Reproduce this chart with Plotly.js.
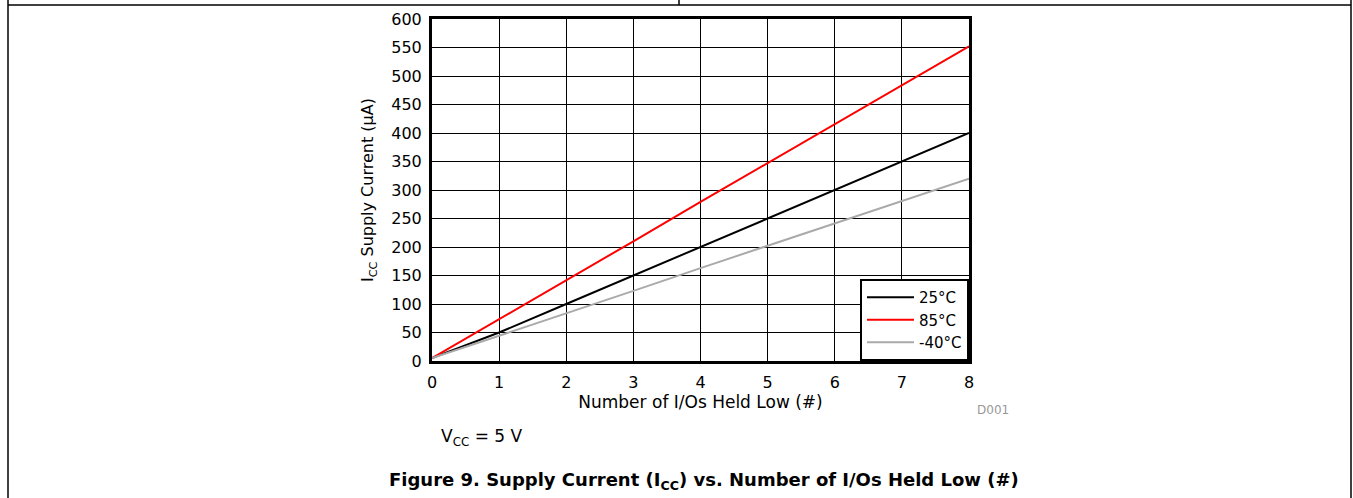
<!DOCTYPE html>
<html>
<head>
<meta charset="utf-8">
<script src="https://cdn.plot.ly/plotly-3.0.1.min.js"></script>
<style>
html,body{margin:0;padding:0;background:#fff;}
#chart{width:1353px;height:498px;}
</style>
</head>
<body>
<div id="chart"></div>
<script>
const ios = [0, 1, 2, 3, 4, 5, 6, 7, 8];
const icc25 = [5, 50, 100, 150, 200, 250, 300, 350, 400];
const icc85 = [5, 73, 142, 210, 279, 347, 415, 484, 552];
const iccM40 = [5, 44, 84, 123, 163, 202, 241, 281, 320];
const seriesNames = ['25°C', '85°C', '-40°C'];
const xTicks = [0, 1, 2, 3, 4, 5, 6, 7, 8];
const yTicks = [0, 50, 100, 150, 200, 250, 300, 350, 400, 450, 500, 550, 600];

const L = 432, R = 969, T = 19, B = 361, W = 1353, H = 498;
const px = v => (v - L) / (R - L);
const py = v => (B - v) / (B - T);

const font = 'DejaVu Sans, Arial, sans-serif';

const traces = [
  {x: ios, y: icc25, name: seriesNames[0], mode: 'lines', line: {color: '#000000', width: 2}},
  {x: ios, y: icc85, name: seriesNames[1], mode: 'lines', line: {color: '#ff0000', width: 2}},
  {x: ios, y: iccM40, name: seriesNames[2], mode: 'lines', line: {color: '#aaaaaa', width: 2}}
];

const frame = {type: 'line', xref: 'paper', yref: 'paper', line: {color: '#000', width: 1.5}};
const shapes = [
  Object.assign({}, frame, {x0: px(8), x1: px(1351), y0: py(5), y1: py(5)}),
  Object.assign({}, frame, {x0: px(8), x1: px(8), y0: py(0), y1: py(498)}),
  Object.assign({}, frame, {x0: px(1351), x1: px(1351), y0: py(0), y1: py(498)}),
  Object.assign({}, frame, {x0: px(679), x1: px(679), y0: py(0), y1: py(5)})
];

const annotations = [
  {text: 'D001', xref: 'paper', yref: 'paper', x: px(993), y: py(410), showarrow: false,
   font: {family: font, size: 12, color: '#999999'}, xanchor: 'center', yanchor: 'middle'},
  {text: 'V<sub>CC</sub> = 5 V', xref: 'paper', yref: 'paper', x: px(439), y: py(437), showarrow: false,
   font: {family: font, size: 17, color: '#000'}, xanchor: 'left', yanchor: 'middle'},
  {text: '<b>Figure 9. Supply Current (I<sub>CC</sub>) vs. Number of I/Os Held Low (#)</b>', xref: 'paper', yref: 'paper',
   x: px(704), y: py(481), showarrow: false,
   font: {family: font, size: 18, color: '#000'}, xanchor: 'center', yanchor: 'middle'}
];

const layout = {
  width: W, height: H,
  margin: {l: L, r: W - R, t: T, b: H - B, pad: 0},
  paper_bgcolor: '#fff', plot_bgcolor: '#fff',
  font: {family: font, size: 16, color: '#000'},
  showlegend: true,
  legend: {x: 1, y: 0, xanchor: 'right', yanchor: 'bottom', bordercolor: '#000', borderwidth: 2,
           bgcolor: '#fff', font: {family: font, size: 15, color: '#000'}, tracegroupgap: 0,
           itemwidth: 47},
  xaxis: {
    range: [0, 8], tickvals: xTicks, ticktext: xTicks.map(String), showgrid: true, gridcolor: '#000', gridwidth: 1,
    zeroline: false, showline: true, mirror: true, linecolor: '#000', linewidth: 3, ticks: '',
    tickfont: {family: font, size: 16}, fixedrange: true, ticklabelstandoff: 5,
    title: {text: 'Number of I/Os Held Low (#)', font: {family: font, size: 17}, standoff: 0}
  },
  yaxis: {
    range: [0, 600], tickvals: yTicks, ticktext: yTicks.map(String), showgrid: true, gridcolor: '#000', gridwidth: 1,
    zeroline: false, showline: true, mirror: true, linecolor: '#000', linewidth: 3, ticks: '',
    tickfont: {family: font, size: 16}, fixedrange: true, ticklabelstandoff: 4,
    title: {text: 'I<sub>CC</sub> Supply Current (µA)', font: {family: font, size: 16}, standoff: 14}
  },
  shapes: shapes,
  annotations: annotations
};

Plotly.newPlot('chart', traces, layout, {displayModeBar: false, staticPlot: true});
</script>
</body>
</html>
